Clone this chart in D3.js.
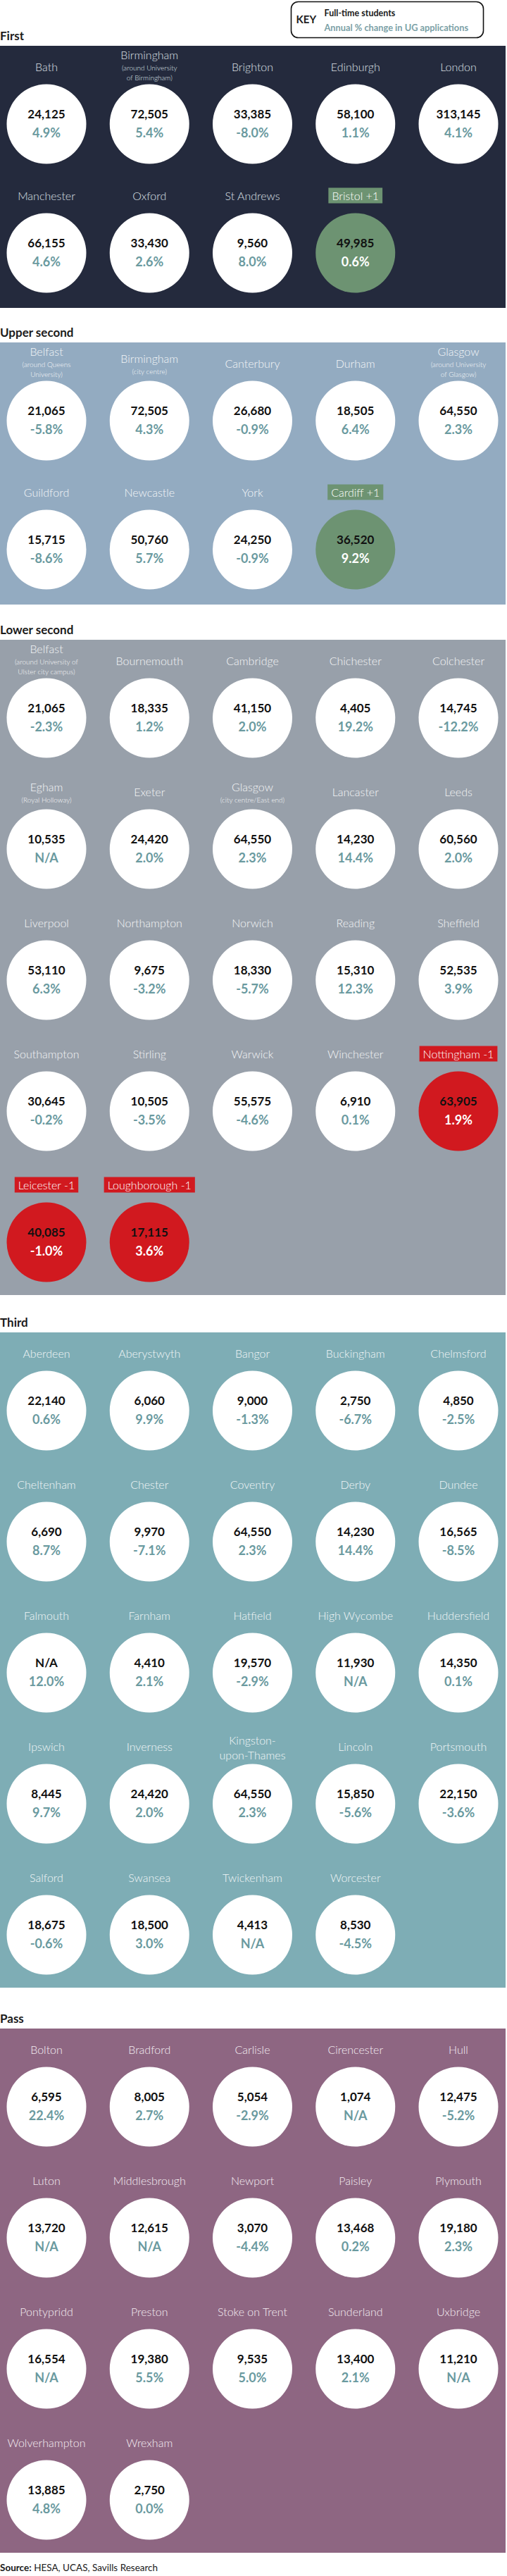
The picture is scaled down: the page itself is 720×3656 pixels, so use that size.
<!DOCTYPE html>
<html>
<head>
<meta charset="utf-8">
<script src="https://cdn.jsdelivr.net/npm/d3@7"></script>
<style>
  html, body { margin: 0; padding: 0; background: #ffffff; }
  svg { display: block; font-family: Lato, "Open Sans", sans-serif; }
</style>
</head>
<body>
<div id="chart"></div>
<script>
// ---------------- DATA ----------------
const sectionTitles = ["First", "Upper second", "Lower second", "Third", "Pass"];

const firstNames = ["Bath", "Birmingham", "Brighton", "Edinburgh", "London", "Manchester", "Oxford", "St Andrews", "Bristol"];
const firstNotes = ["", "(around University\nof Birmingham)", "", "", "", "", "", "", ""];
const firstStudents = [24125, 72505, 33385, 58100, 313145, 66155, 33430, 9560, 49985];
const firstChange = [4.9, 5.4, -8.0, 1.1, 4.1, 4.6, 2.6, 8.0, 0.6];
const firstMove = [0, 0, 0, 0, 0, 0, 0, 0, 1];

const upperNames = ["Belfast", "Birmingham", "Canterbury", "Durham", "Glasgow", "Guildford", "Newcastle", "York", "Cardiff"];
const upperNotes = ["(around Queens\nUniversity)", "(city centre)", "", "", "(around University\nof Glasgow)", "", "", "", ""];
const upperStudents = [21065, 72505, 26680, 18505, 64550, 15715, 50760, 24250, 36520];
const upperChange = [-5.8, 4.3, -0.9, 6.4, 2.3, -8.6, 5.7, -0.9, 9.2];
const upperMove = [0, 0, 0, 0, 0, 0, 0, 0, 1];

const lowerNames = ["Belfast", "Bournemouth", "Cambridge", "Chichester", "Colchester",
  "Egham", "Exeter", "Glasgow", "Lancaster", "Leeds",
  "Liverpool", "Northampton", "Norwich", "Reading", "Sheffield",
  "Southampton", "Stirling", "Warwick", "Winchester", "Nottingham",
  "Leicester", "Loughborough"];
const lowerNotes = ["(around University of\nUlster city campus)", "", "", "", "",
  "(Royal Holloway)", "", "(city centre/East end)", "", "",
  "", "", "", "", "", "", "", "", "", "", "", ""];
const lowerStudents = [21065, 18335, 41150, 4405, 14745,
  10535, 24420, 64550, 14230, 60560,
  53110, 9675, 18330, 15310, 52535,
  30645, 10505, 55575, 6910, 63905,
  40085, 17115];
const lowerChange = [-2.3, 1.2, 2.0, 19.2, -12.2,
  null, 2.0, 2.3, 14.4, 2.0,
  6.3, -3.2, -5.7, 12.3, 3.9,
  -0.2, -3.5, -4.6, 0.1, 1.9,
  -1.0, 3.6];
const lowerMove = [0, 0, 0, 0, 0, 0, 0, 0, 0, 0, 0, 0, 0, 0, 0, 0, 0, 0, 0, -1, -1, -1];

const thirdNames = ["Aberdeen", "Aberystwyth", "Bangor", "Buckingham", "Chelmsford",
  "Cheltenham", "Chester", "Coventry", "Derby", "Dundee",
  "Falmouth", "Farnham", "Hatfield", "High Wycombe", "Huddersfield",
  "Ipswich", "Inverness", "Kingston-\nupon-Thames", "Lincoln", "Portsmouth",
  "Salford", "Swansea", "Twickenham", "Worcester"];
const thirdStudents = [22140, 6060, 9000, 2750, 4850,
  6690, 9970, 64550, 14230, 16565,
  null, 4410, 19570, 11930, 14350,
  8445, 24420, 64550, 15850, 22150,
  18675, 18500, 4413, 8530];
const thirdChange = [0.6, 9.9, -1.3, -6.7, -2.5,
  8.7, -7.1, 2.3, 14.4, -8.5,
  12.0, 2.1, -2.9, null, 0.1,
  9.7, 2.0, 2.3, -5.6, -3.6,
  -0.6, 3.0, null, -4.5];

const passNames = ["Bolton", "Bradford", "Carlisle", "Cirencester", "Hull",
  "Luton", "Middlesbrough", "Newport", "Paisley", "Plymouth",
  "Pontypridd", "Preston", "Stoke on Trent", "Sunderland", "Uxbridge",
  "Wolverhampton", "Wrexham"];
const passStudents = [6595, 8005, 5054, 1074, 12475,
  13720, 12615, 3070, 13468, 19180,
  16554, 19380, 9535, 13400, 11210,
  13885, 2750];
const passChange = [22.4, 2.7, -2.9, null, -5.2,
  null, null, -4.4, 0.2, 2.3,
  null, 5.5, 5.0, 2.1, null,
  4.8, 0.0];

const keyLabels = ["KEY", "Full-time students", "Annual % change in UG applications"];
const sourceBold = "Source:";
const sourceText = " HESA, UCAS, Savills Research";

// ---------------- BUILD ----------------
function build(names, notes, students, change, move) {
  return names.map((n, i) => ({
    name: n,
    note: notes ? notes[i] : "",
    students: students[i],
    change: change[i],
    move: move ? move[i] : 0,
    col: i % 5,
    row: Math.floor(i / 5)
  }));
}
const sections = [
  build(firstNames, firstNotes, firstStudents, firstChange, firstMove),
  build(upperNames, upperNotes, upperStudents, upperChange, upperMove),
  build(lowerNames, lowerNotes, lowerStudents, lowerChange, lowerMove),
  build(thirdNames, null, thirdStudents, thirdChange, null),
  build(passNames, null, passStudents, passChange, null)
];

// ---------------- LAYOUT / STYLE ----------------
const W = 720, H = 3656;
const panelW = 718;
const panelTops = [65, 486, 908, 1891, 2879];
const rowSteps = [183, 183, 186, 186, 186];
const bottomPads = [78, 78, 75, 75, 75];
const panelColors = ["#242a3d", "#93abc1", "#98a0aa", "#7eadb5", "#8e6682"];
const nameColors = ["#dde0e6", "#f4f6f8", "#f4f5f6", "#f2f6f7", "#f5eef3"];
const R = 56.5, topPad = 111;
const pctColor = "#6a9a9f";
const keyPctColor = "#7ba1a6";
const upColor = "#6d9372", downColor = "#d1191f";

const x = d3.scalePoint().domain(d3.range(5)).range([66, 651]);
const fmtNum = d3.format(",");
const fmtPct = v => v == null ? "N/A" : (v < 0 ? "-" : "") + Math.abs(v).toFixed(1) + "%";

const svg = d3.select("#chart").append("svg")
  .attr("width", W).attr("height", H).attr("viewBox", `0 0 ${W} ${H}`);

// Key box
const key = svg.append("g");
key.append("rect").attr("x", 413.5).attr("y", 2.5).attr("width", 273).attr("height", 51)
  .attr("rx", 10).attr("fill", "#fff").attr("stroke", "#111").attr("stroke-width", 1.6);
key.append("text").attr("x", 420.5).attr("y", 33).attr("font-size", 15).attr("font-weight", 700)
  .attr("fill", "#222").text(keyLabels[0]);
key.append("text").attr("x", 460.5).attr("y", 23).attr("font-size", 12.5).attr("font-weight", 700)
  .attr("fill", "#1a1a1a").text(keyLabels[1]);
key.append("text").attr("x", 460.5).attr("y", 43.5).attr("font-size", 12.8).attr("font-weight", 700)
  .attr("fill", keyPctColor).text(keyLabels[2]);

sections.forEach((items, si) => {
  const rows = d3.max(items, d => d.row) + 1;
  const top = panelTops[si];
  const step = rowSteps[si];
  const ph = topPad + (rows - 1) * step + bottomPads[si];
  const y = d3.scaleLinear().domain([0, 1]).range([top + topPad, top + topPad + step]);

  svg.append("text").attr("x", 0).attr("y", top - 8).attr("font-size", 17).attr("font-weight", 700)
    .attr("fill", "#1b1b1b").text(sectionTitles[si]);

  svg.append("rect").attr("x", 0).attr("y", top).attr("width", panelW).attr("height", ph)
    .attr("fill", panelColors[si]);

  const g = svg.append("g").selectAll("g").data(items).join("g")
    .attr("transform", d => `translate(${x(d.col)},${y(d.row)})`);

  g.append("circle").attr("r", R)
    .attr("fill", d => d.move > 0 ? upColor : d.move < 0 ? downColor : "#ffffff");

  g.append("text").attr("y", -15).attr("text-anchor", "middle").attr("dominant-baseline", "central")
    .attr("font-size", 17).attr("font-weight", 700).attr("fill", "#111")
    .text(d => d.students == null ? "N/A" : fmtNum(d.students));

  g.append("text").attr("y", 12).attr("text-anchor", "middle").attr("dominant-baseline", "central")
    .attr("font-size", 18).attr("font-weight", 700)
    .attr("fill", d => d.move !== 0 ? "#ffffff" : pctColor)
    .text(d => fmtPct(d.change));

  // labels
  g.each(function (d) {
    const el = d3.select(this);
    const nameLines = d.name.split("\n");
    const noteLines = d.note ? d.note.split("\n") : [];
    let ys;
    if (nameLines.length === 2) ys = [-91, -70];
    else if (noteLines.length === 2) ys = [-99, -80, -66];
    else if (noteLines.length === 1) ys = [-89, -70];
    else ys = [-82];

    if (d.move !== 0) {
      const label = d.name + (d.move > 0 ? " +1" : " -1");
      const t = el.append("text").attr("y", -81.5).attr("text-anchor", "middle")
        .attr("dominant-baseline", "central").attr("font-size", 16).attr("font-weight", 300)
        .attr("fill", "#ffffff").text(label);
      const w = t.node().getComputedTextLength() + 10;
      el.insert("rect", "text").attr("x", -w / 2).attr("y", -92.5).attr("width", w).attr("height", 22)
        .attr("fill", d.move > 0 ? upColor : downColor);
      return;
    }
    nameLines.forEach((ln, k) => {
      el.append("text").attr("y", ys[k]).attr("text-anchor", "middle").attr("dominant-baseline", "central")
        .attr("font-size", 16).attr("font-weight", 300).attr("fill", nameColors[si]).text(ln);
    });
    noteLines.forEach((ln, k) => {
      el.append("text").attr("y", ys[k + 1]).attr("text-anchor", "middle").attr("dominant-baseline", "central")
        .attr("font-size", 10).attr("font-weight", 300).attr("fill", nameColors[si]).text(ln);
    });
  });
});

// Source
const src = svg.append("text").attr("x", 0).attr("y", 3649).attr("font-size", 13.5).attr("fill", "#1a1a1a");
src.append("tspan").attr("font-weight", 700).text(sourceBold);
src.append("tspan").attr("font-weight", 400).text(sourceText);
</script>
</body>
</html>
